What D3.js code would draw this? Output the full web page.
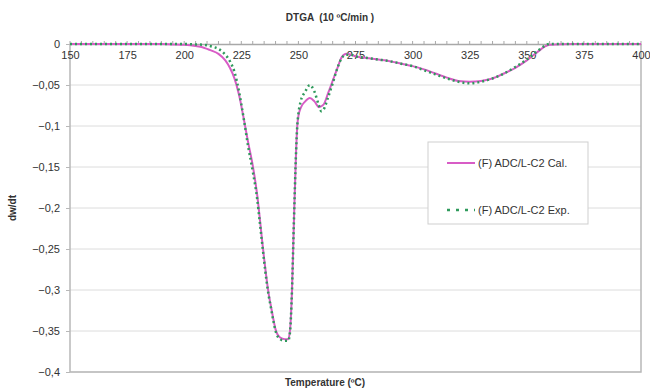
<!DOCTYPE html>
<html>
<head>
<meta charset="utf-8">
<script src="https://cdn.jsdelivr.net/npm/d3@7"></script>
<style>
  body { margin: 0; background: #fff; }
  text { font-family: "Liberation Sans", Arial, sans-serif; fill: #333; }
</style>
</head>
<body>
<div id="chart"></div>
<script>
// temperature (ºC) and dw/dt values
const calTemps = [150, 170, 190, 195, 200, 205, 208, 210, 212, 215, 218, 220, 222, 224, 226, 228, 230, 232, 233, 234, 235, 236, 237, 238, 239, 240, 242, 244, 245.5, 246.3, 247.2, 248, 249, 249.5, 250, 251, 253, 255, 257, 259, 261, 263, 265, 267, 269, 271, 273, 275, 280, 285, 290, 295, 300, 305, 310, 315, 320, 325, 330, 335, 340, 345, 350, 355, 358, 360, 370, 400];
const calValues = [0, 0, 0, -0.0005, -0.001, -0.0025, -0.004, -0.006, -0.008, -0.012, -0.02, -0.029, -0.042, -0.062, -0.09, -0.12, -0.148, -0.185, -0.21, -0.237, -0.262, -0.285, -0.305, -0.32, -0.335, -0.348, -0.358, -0.36, -0.36, -0.35, -0.3, -0.22, -0.13, -0.1, -0.088, -0.078, -0.07, -0.066, -0.07, -0.077, -0.074, -0.06, -0.045, -0.03, -0.016, -0.012, -0.013, -0.015, -0.017, -0.019, -0.021, -0.024, -0.027, -0.031, -0.036, -0.041, -0.045, -0.046, -0.045, -0.042, -0.036, -0.029, -0.02, -0.009, -0.003, -0.001, 0, 0];

const expTemps = [150, 170, 190, 200, 205, 210, 212, 215, 218, 220, 222, 224, 226, 228, 230, 232, 233, 234, 235, 236, 237, 238, 239, 240, 242, 244, 245.5, 246.3, 247.2, 248, 249, 249.5, 250, 251, 253, 255, 257, 259, 260, 261, 263, 265, 267, 269, 271, 273, 275, 280, 285, 290, 295, 300, 305, 310, 315, 320, 325, 330, 335, 340, 345, 350, 355, 358, 360, 370, 400];
const expValues = [0, 0, 0, 0, -0.0005, -0.0015, -0.003, -0.006, -0.013, -0.021, -0.034, -0.058, -0.09, -0.125, -0.155, -0.19, -0.215, -0.24, -0.265, -0.288, -0.307, -0.322, -0.337, -0.35, -0.36, -0.362, -0.362, -0.352, -0.3, -0.22, -0.13, -0.1, -0.085, -0.07, -0.058, -0.05, -0.058, -0.075, -0.082, -0.08, -0.065, -0.048, -0.03, -0.017, -0.013, -0.013, -0.015, -0.017, -0.019, -0.021, -0.024, -0.027, -0.032, -0.037, -0.042, -0.046, -0.048, -0.046, -0.042, -0.036, -0.028, -0.019, -0.008, -0.002, 0, 0, 0];

const xTicks = [150, 175, 200, 225, 250, 275, 300, 325, 350, 375, 400];
const yTicks = [0, -0.05, -0.1, -0.15, -0.2, -0.25, -0.3, -0.35, -0.4];
const seriesNames = ['(F) ADC/L-C2 Cal.', '(F) ADC/L-C2 Exp.'];

const width = 650, height = 390;
const margins = { top: 44, right: 9, bottom: 18, left: 70 };
const w = width - margins.left - margins.right;
const h = height - margins.top - margins.bottom;

const calColor = '#d85cc6';
const expColor = '#2f9a5c';

const commaFormat = d3.formatLocale({ decimal: ',', thousands: '.', grouping: [3], currency: ['', ''] }).format('~g');

const svg = d3.select('#chart').append('svg')
    .attr('width', width)
    .attr('height', height);

const canvas = svg.append('g')
    .attr('transform', `translate(${margins.left}, ${margins.top})`);

const xScale = d3.scaleLinear().domain([150, 400]).range([0, w]);
const yScale = d3.scaleLinear().domain([-0.4, 0]).range([h, 0]);

// gridlines
canvas.selectAll('line.grid')
    .data(yTicks.filter(d => d !== 0))
    .enter()
    .append('line')
    .attr('class', 'grid')
    .attr('x1', 0)
    .attr('x2', w)
    .attr('y1', d => yScale(d))
    .attr('y2', d => yScale(d))
    .attr('stroke', '#dcdcdc')
    .attr('stroke-width', 1);

// plot frame (left, right, bottom)
canvas.append('path')
    .attr('d', `M0,0V${h}H${w}V0`)
    .attr('fill', 'none')
    .attr('stroke', '#b8b8b8')
    .attr('stroke-width', 1.5);

// y axis
const yAxis = canvas.append('g')
    .call(d3.axisLeft(yScale).tickValues(yTicks).tickSize(4).tickPadding(4).tickFormat(d => d === 0 ? '0' : commaFormat(d)));
yAxis.select('.domain').remove();
yAxis.selectAll('line').attr('stroke', '#b8b8b8');
yAxis.selectAll('text').style('font-size', '11px').attr('dx', '-2');

// x axis sitting on y = 0
const xAxis = canvas.append('g')
    .attr('transform', `translate(0, ${yScale(0)})`)
    .call(d3.axisBottom(xScale).tickValues(xTicks).tickSize(0).tickPadding(7));
xAxis.select('.domain').attr('stroke', '#a8a8a8').attr('stroke-width', 1.5);
xAxis.selectAll('text').style('font-size', '11px');

canvas.append('g')
    .selectAll('line')
    .data(d3.range(150, 401, 5))
    .enter()
    .append('line')
    .attr('x1', d => xScale(d))
    .attr('x2', d => xScale(d))
    .attr('y1', yScale(0) - 3)
    .attr('y2', yScale(0))
    .attr('stroke', '#a8a8a8');

// curves
const line = d3.line()
    .x(d => xScale(d[0]))
    .y(d => yScale(d[1]))
    .curve(d3.curveMonotoneX);

canvas.append('path')
    .datum(d3.zip(calTemps, calValues))
    .attr('d', line)
    .attr('fill', 'none')
    .attr('stroke', calColor)
    .attr('stroke-width', 2);

canvas.append('path')
    .datum(d3.zip(expTemps, expValues))
    .attr('d', line)
    .attr('fill', 'none')
    .attr('stroke', expColor)
    .attr('stroke-width', 2.5)
    .attr('stroke-dasharray', '2,3');

// legend
const legend = svg.append('g').attr('transform', 'translate(428, 142)');
legend.append('rect')
    .attr('width', 160)
    .attr('height', 82)
    .attr('fill', '#fff')
    .attr('stroke', '#cfcfcf');

legend.selectAll('line.key')
    .data(seriesNames)
    .enter()
    .append('line')
    .attr('x1', 19)
    .attr('x2', 47)
    .attr('y1', (d, i) => 21 + i * 47)
    .attr('y2', (d, i) => 21 + i * 47)
    .attr('stroke', (d, i) => i === 0 ? calColor : expColor)
    .attr('stroke-width', (d, i) => i === 0 ? 2 : 2.5)
    .attr('stroke-dasharray', (d, i) => i === 0 ? null : '3,6');

legend.selectAll('text')
    .data(seriesNames)
    .enter()
    .append('text')
    .attr('x', 50)
    .attr('y', (d, i) => 25 + i * 47)
    .style('font-size', '11px')
    .text(d => d);

// titles
svg.append('text')
    .attr('x', 330)
    .attr('y', 21)
    .attr('text-anchor', 'middle')
    .style('font-size', '10px')
    .style('font-weight', 'bold')
    .style('white-space', 'pre')
    .text('DTGA  (10 ºC/min )');

svg.append('text')
    .attr('x', 325)
    .attr('y', 386)
    .attr('text-anchor', 'middle')
    .style('font-size', '10px')
    .style('font-weight', 'bold')
    .text('Temperature (ºC)');

svg.append('text')
    .attr('transform', 'translate(16, 208) rotate(-90)')
    .attr('text-anchor', 'middle')
    .style('font-size', '10px')
    .style('font-weight', 'bold')
    .text('dw/dt');
</script>
</body>
</html>
